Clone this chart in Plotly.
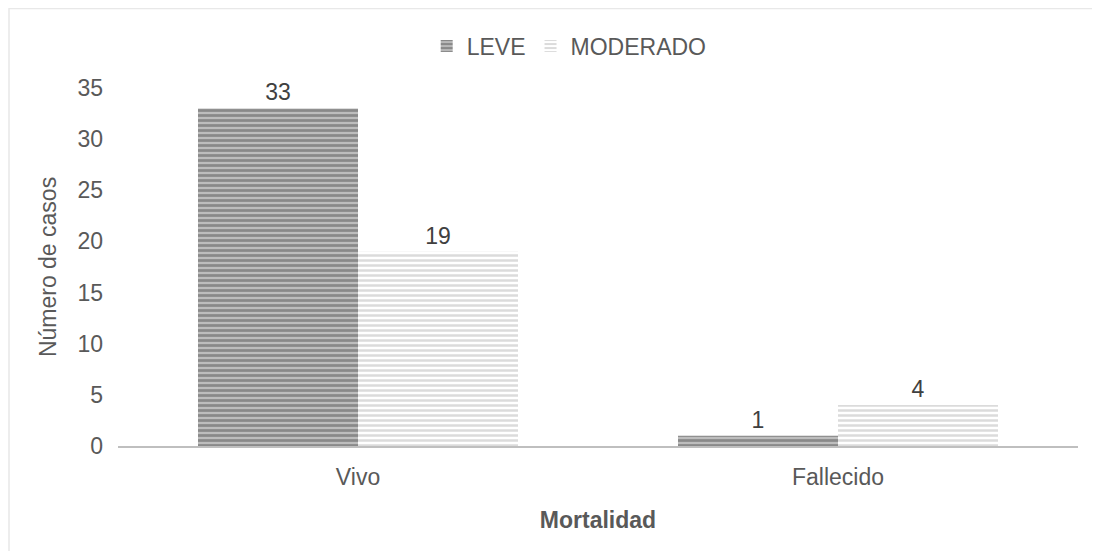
import plotly.graph_objects as go

categories = ["Vivo", "Fallecido"]
leve = [33, 1]
moderado = [19, 4]

# page has an 8px body margin, so the figure is drawn 8px in from the window corner
OFF = 8
W, H = 1100 - OFF, 551 - OFF
L, R, T, B = 118 - OFF, 22, 88 - OFF, 105
pw, ph = W - L - R, H - T - B

FONT = "Liberation Sans, Arial, sans-serif"
TXT = "#595959"
FS = 23

fig = go.Figure()
fig.add_trace(go.Bar(
    x=categories, y=leve, name="LEVE",
    marker=dict(color="#bdbdbd", line_width=0,
                pattern=dict(shape="-", fgcolor="#555555", bgcolor="#bdbdbd",
                             size=5, solidity=0.55)),
    text=leve, textposition="outside", cliponaxis=False,
    textfont=dict(size=FS, color="#404040"),
))
fig.add_trace(go.Bar(
    x=categories, y=moderado, name="MODERADO",
    marker=dict(color="#ffffff", line_width=0,
                pattern=dict(shape="-", fgcolor="#b8b8b8", bgcolor="#ffffff",
                             size=5, solidity=0.5)),
    text=moderado, textposition="outside", cliponaxis=False,
    textfont=dict(size=FS, color="#404040"),
))

# light outer frame of the chart area
fig.add_shape(type="rect", xref="paper", yref="paper",
              x0=(1 - L) / pw, x1=(W + 5 - L) / pw,
              y0=(H - B - (H + 5)) / ph, y1=(H - B - 0.5) / ph,
              line=dict(color="#e8e8e8", width=1.5), layer="below")

fig.update_layout(
    width=W, height=H,
    barmode="group", bargap=1 / 3, bargroupgap=0,
    plot_bgcolor="white", paper_bgcolor="white",
    font=dict(family=FONT, size=FS, color=TXT),
    margin=dict(l=L, r=R, t=T, b=B),
    legend=dict(orientation="h", x=0.47, xanchor="center", y=1.117, yanchor="middle",
                font=dict(size=FS, color=TXT), itemwidth=30, traceorder="normal"),
    xaxis=dict(
        title=dict(text="<b>Mortalidad</b>", font=dict(size=FS, color=TXT), standoff=23),
        showline=True, linecolor="#bfbfbf", linewidth=1.5, showgrid=False,
        ticks="", tickfont=dict(size=FS, color=TXT), ticklabelstandoff=10,
    ),
    yaxis=dict(
        title=dict(text="Número de casos", font=dict(size=FS, color=TXT), standoff=14),
        range=[0, 35], dtick=5, showgrid=False, showline=False, zeroline=False,
        ticks="", tickfont=dict(size=FS, color=TXT), ticklabelstandoff=14,
    ),
)

fig.write_html("out.html")
